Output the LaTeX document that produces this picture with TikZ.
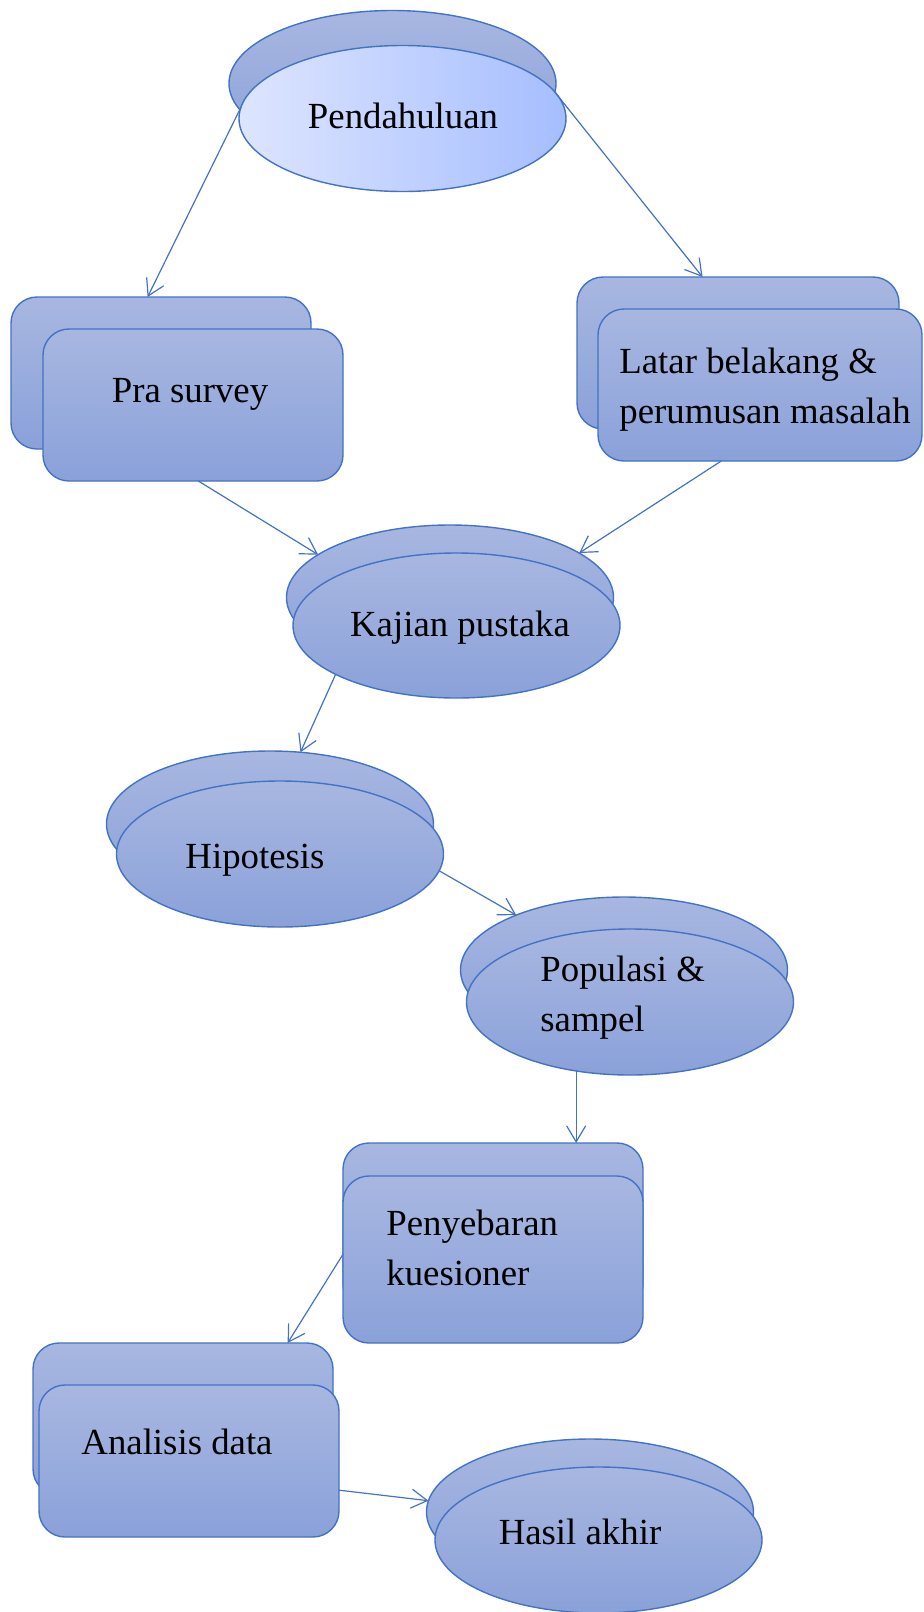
\documentclass[tikz,border=0pt]{standalone}
\usepackage{fontspec}
\setmainfont{Liberation Serif}
\usetikzlibrary{shapes.geometric,arrows.meta}
\definecolor{edge}{HTML}{4472C4}
\definecolor{boxtop}{HTML}{A8B7E1}
\definecolor{boxbot}{HTML}{8AA1D9}
\definecolor{pendleft}{HTML}{DDE5FF}
\definecolor{pendright}{HTML}{A6BEFF}

\begin{document}
\begin{tikzpicture}[x=0.5pt,y=-0.5pt,
        shp/.style={draw=edge,line width=0.7pt,inner sep=0pt,outer sep=0pt},
        fillv/.style={top color=boxtop,bottom color=boxbot},
        oval/.style={shp,fillv,ellipse,minimum width=163.5pt,minimum height=73pt},
        card/.style={shp,fillv,rectangle,rounded corners=13pt,minimum width=150pt,minimum height=76pt},
        lbl/.style={font=\fontsize{18.4}{25}\selectfont,inner sep=0pt,align=left},
        arr/.style={draw=edge,line width=0.6pt,-{Straight Barb[length=8pt,width=9.5pt]}}]
                \useasboundingbox (0,0) rectangle (923,1612);

                \node (pendB) [oval] at (392.5,83.5) {};
                \node (pendF) [oval,left color=pendleft,right color=pendright] at (402.5,118.5) {};
                \node (praB) [card] at (161,373) {};
                \node (praF) [card] at (193,405) {};
                \node (latB) [card,minimum width=161pt] at (738,353) {};
                \node (latF) [card,minimum width=162pt] at (760,385) {};
                \node (kajB) [oval,minimum height=72.5pt] at (450,597.5) {};
                \node (kajF) [oval,minimum height=72.5pt] at (456.5,625.5) {};
                \node (hipB) [oval] at (270,824) {};
                \node (hipF) [oval] at (280,854) {};
                \node (popB) [oval] at (624,970) {};
                \node (popF) [oval] at (630,1002) {};
                \node (penB) [card,minimum height=83.5pt] at (493,1226.5) {};
                \node (penF) [card,minimum height=83.5pt] at (493,1259.5) {};
                \node (anaB) [card] at (183,1419) {};
                \node (anaF) [card] at (189,1461) {};
                \node (hasB) [oval] at (590,1512) {};
                \node (hasF) [oval] at (598.5,1540) {};

                \node (pendT) [lbl,anchor=base] at (403,128) {Pendahuluan};
                \node (praT) [lbl,anchor=base] at (190,402) {Pra survey};
                \node (latT) [lbl,anchor=base west] at (619,423) {Latar belakang \&\\perumusan masalah};
                \node (kajT) [lbl,anchor=base] at (460,636) {Kajian pustaka};
                \node (hipT) [lbl,anchor=base] at (255,868) {Hipotesis};
                \node (popT) [lbl,anchor=base west] at (540,1031) {Populasi \&\\sampel};
                \node (penT) [lbl,anchor=base west] at (386,1285) {Penyebaran\\kuesioner};
                \node (anaT) [lbl,anchor=base] at (177,1454) {Analisis data};
                \node (hasT) [lbl,anchor=base] at (580,1544) {Hasil akhir};

                \draw[arr] (pendF.176) -- (praB.100);
                \draw[arr] (pendF.10) -- (latB.115);
                \draw[arr] (praF.-86) -- (kajB.162);
                \draw[arr] (latF.-117) -- (kajB.19);
                \draw[arr] (kajF.-158) -- (hipB.67);
                \draw[arr] (hipF.-6) -- (popB.153);
                \draw[arr] (popF.-128) -- (popF.-128 |- penB.north);
                \draw[arr] (penF.178) -- (anaB.36);
                \draw[arr] (anaF.-11) -- (hasB.176);
\end{tikzpicture}
\end{document}
